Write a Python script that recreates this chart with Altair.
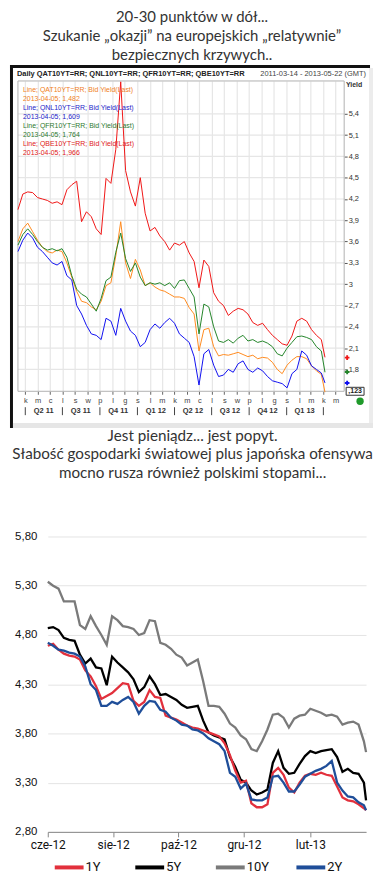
import altair as alt
import pandas as pd

# ---------------- top chart (Reuters screenshot) ----------------
top_title = ["20-30 punktów w dół...",
             "Szukanie „okazji” na europejskich „relatywnie”",
             "bezpiecznych krzywych.."]

top_dates = [
    "2011-03-14", "2011-03-26", "2011-04-07", "2011-04-19", "2011-05-01", "2011-05-13", "2011-05-25",
    "2011-06-06", "2011-06-18", "2011-06-30", "2011-07-12", "2011-07-24", "2011-08-05", "2011-08-17",
    "2011-08-29", "2011-09-10", "2011-09-22", "2011-10-04", "2011-10-16", "2011-10-28", "2011-11-09",
    "2011-11-21", "2011-12-03", "2011-12-15", "2011-12-27", "2012-01-08", "2012-01-20", "2012-02-01",
    "2012-02-13", "2012-02-25", "2012-03-08", "2012-03-20", "2012-04-01", "2012-04-13", "2012-04-25",
    "2012-05-07", "2012-05-19", "2012-05-31", "2012-06-12", "2012-06-24", "2012-07-06", "2012-07-18",
    "2012-07-30", "2012-08-11", "2012-08-23", "2012-09-04", "2012-09-16", "2012-09-28", "2012-10-10",
    "2012-10-22", "2012-11-03", "2012-11-15", "2012-11-27", "2012-12-09", "2012-12-21", "2013-01-02",
    "2013-01-14", "2013-01-26", "2013-02-07", "2013-02-19", "2013-03-03", "2013-03-15", "2013-03-27",
    "2013-04-05"]

qat = [3.60, 3.78, 3.86, 3.74, 3.62, 3.52, 3.46, 3.44, 3.48, 3.46,
       3.30, 3.10, 2.90, 2.76, 2.74, 2.68, 2.64, 2.76, 2.98, 3.02,
       3.40, 3.88, 3.30, 3.08, 3.35, 3.20, 2.98, 3.02, 2.96, 2.92,
       2.90, 2.86, 2.82, 2.82, 2.80, 2.67, 2.58, 2.06, 2.36, 2.38,
       2.12, 1.99, 2.01, 2.00, 2.02, 2.04, 2.01, 1.98, 2.00, 1.95,
       1.97, 1.96, 1.90, 1.80, 1.74, 1.86, 1.93, 1.98, 1.98, 1.95,
       1.85, 1.78, 1.73, 1.48]
qnl = [3.46, 3.62, 3.72, 3.65, 3.52, 3.46, 3.38, 3.30, 3.27, 3.32,
       3.12, 3.06, 2.70, 2.58, 2.42, 2.30, 2.28, 2.22, 2.52, 2.48,
       2.28, 2.66, 2.48, 2.34, 2.28, 2.12, 2.18, 2.36, 2.44, 2.38,
       2.46, 2.52, 2.45, 2.30, 2.24, 2.18, 1.98, 1.58, 2.02, 2.08,
       1.86, 1.70, 1.72, 1.80, 1.76, 1.88, 1.92, 1.80, 1.76, 1.82,
       1.78, 1.70, 1.64, 1.62, 1.60, 1.54, 1.74, 1.80, 2.06, 2.00,
       1.85, 1.80, 1.75, 1.61]
qfr = [3.55, 3.70, 3.78, 3.70, 3.60, 3.52, 3.48, 3.50, 3.47, 3.50,
       3.38, 3.12, 2.93, 2.86, 2.82, 2.72, 2.62, 2.80, 3.05, 3.10,
       3.45, 3.72, 3.36, 3.18, 3.30, 3.10, 2.98, 3.02, 3.00, 3.02,
       2.98, 3.02, 2.94, 3.05, 3.06, 2.94, 2.82, 2.30, 2.72, 2.68,
       2.40, 2.20, 2.18, 2.22, 2.17, 2.24, 2.28, 2.20, 2.22, 2.18,
       2.20, 2.17, 2.12, 2.02, 1.99, 2.10, 2.18, 2.26, 2.27, 2.25,
       2.22, 2.12, 2.06, 1.76]
qbe = [4.05, 4.27, 4.30, 4.29, 4.22, 4.20, 4.18, 4.14, 4.16, 4.12,
       4.33, 4.40, 4.45, 3.88, 4.02, 3.95, 3.78, 3.70, 4.49, 4.42,
       4.90, 5.85, 4.60, 4.30, 4.10, 4.50, 4.00, 3.75, 3.80, 3.68,
       3.60, 3.48, 3.58, 3.55, 3.60, 3.44, 3.32, 2.95, 3.34, 3.25,
       2.88, 2.76, 2.70, 2.56, 2.62, 2.66, 2.64, 2.58, 2.46, 2.42,
       2.45, 2.36, 2.28, 2.22, 2.16, 2.14, 2.27, 2.48, 2.52, 2.48,
       2.36, 2.28, 2.22, 1.97]

top_series = ["QAT10YT=RR", "QNL10YT=RR", "QFR10YT=RR", "QBE10YT=RR"]
top_colors = ["#FF8A1E", "#1010F0", "#24852A", "#F01616"]
top_text_colors = ["#F0801E", "#2323C8", "#2E7A30", "#E02020"]
last_values = [1.482, 1.609, 1.764, 1.966]
legend_lines = [["Line; QAT10YT=RR; Bid Yield(Last)", "2013-04-05; 1,482"],
                ["Line; QNL10YT=RR; Bid Yield(Last)", "2013-04-05; 1,609"],
                ["Line; QFR10YT=RR; Bid Yield(Last)", "2013-04-05; 1,764"],
                ["Line; QBE10YT=RR; Bid Yield(Last)", "2013-04-05; 1,966"]]
top_yticks = [1.8, 2.1, 2.4, 2.7, 3.0, 3.3, 3.6, 3.9, 4.2, 4.5, 4.8, 5.1, 5.4]
month_letters = "['s','l','m','k','m','c','l','s','w','p','l','g']"
quarter_labels = ["Q2 11", "Q3 11", "Q4 11", "Q1 12", "Q2 12", "Q3 12", "Q4 12", "Q1 13"]
quarter_mid = ["2011-05-16", "2011-08-15", "2011-11-15", "2012-02-15",
               "2012-05-16", "2012-08-15", "2012-11-15", "2013-02-14"]
quarter_starts = ["2011-04-01", "2011-07-01", "2011-10-01", "2012-01-01", "2012-04-01",
                  "2012-07-01", "2012-10-01", "2013-01-01", "2013-04-01"]

# ---------------- bottom chart (Polish yields) ----------------
bot_title = ["Jest pieniądz... jest popyt.",
             "Słabość gospodarki światowej plus japońska ofensywa",
             "mocno rusza również polskimi stopami..."]

bot_dates = [
    "2012-06-01", "2012-06-06", "2012-06-11", "2012-06-16", "2012-06-21", "2012-06-26", "2012-07-01",
    "2012-07-06", "2012-07-11", "2012-07-16", "2012-07-21", "2012-07-26", "2012-07-31", "2012-08-05",
    "2012-08-10", "2012-08-15", "2012-08-20", "2012-08-25", "2012-08-30", "2012-09-04", "2012-09-09",
    "2012-09-14", "2012-09-19", "2012-09-24", "2012-09-29", "2012-10-04", "2012-10-09", "2012-10-14",
    "2012-10-19", "2012-10-24", "2012-10-29", "2012-11-03", "2012-11-08", "2012-11-13", "2012-11-18",
    "2012-11-23", "2012-11-28", "2012-12-03", "2012-12-08", "2012-12-13", "2012-12-18", "2012-12-23",
    "2012-12-28", "2013-01-02", "2013-01-07", "2013-01-12", "2013-01-17", "2013-01-22", "2013-01-27",
    "2013-02-01", "2013-02-06", "2013-02-11", "2013-02-16", "2013-02-21", "2013-02-26", "2013-03-03",
    "2013-03-08", "2013-03-13", "2013-03-18", "2013-03-23", "2013-03-25"]

y1 = [4.69, 4.71, 4.65, 4.61, 4.59, 4.58, 4.55, 4.44, 4.38, 4.28,
      4.15, 4.18, 4.21, 4.26, 4.31, 4.30, 4.13, 4.08, 4.12, 4.24,
      4.17, 4.16, 3.98, 3.96, 3.94, 3.91, 3.88, 3.86, 3.85, 3.83,
      3.81, 3.79, 3.77, 3.70, 3.58, 3.42, 3.30, 3.32, 3.09, 3.05,
      3.05, 3.08, 3.40, 3.45, 3.38, 3.25, 3.20, 3.30, 3.37, 3.39,
      3.38, 3.40, 3.38, 3.37, 3.26, 3.15, 3.12, 3.11, 3.08, 3.04,
      3.02]
y5 = [4.87, 4.88, 4.85, 4.77, 4.75, 4.74, 4.60, 4.51, 4.56, 4.47,
      4.46, 4.29, 4.58, 4.52, 4.47, 4.42, 4.35, 4.22, 4.27, 4.38,
      4.30, 4.19, 4.20, 4.17, 4.14, 4.09, 4.06, 4.07, 4.08, 3.93,
      3.81, 3.78, 3.76, 3.74, 3.56, 3.46, 3.33, 3.30, 3.22, 3.18,
      3.20, 3.23, 3.50, 3.62, 3.45, 3.39, 3.40, 3.49, 3.57, 3.62,
      3.60, 3.62, 3.63, 3.64, 3.56, 3.41, 3.44, 3.40, 3.39, 3.30,
      3.12]
y10 = [5.34, 5.30, 5.27, 5.14, 5.14, 5.14, 4.90, 4.86, 4.99, 4.89,
       4.80, 4.70, 4.99, 4.95, 4.89, 4.88, 4.86, 4.80, 4.82, 4.95,
       4.94, 4.72, 4.70, 4.66, 4.60, 4.57, 4.49, 4.52, 4.55, 4.33,
       4.08, 4.08, 4.07, 4.00, 3.90, 3.86, 3.78, 3.74, 3.64, 3.62,
       3.72, 3.84, 3.99, 4.00, 3.96, 3.86, 3.95, 3.98, 3.99, 4.05,
       4.03, 4.01, 3.98, 3.99, 3.97, 3.89, 3.91, 3.92, 3.89, 3.72,
       3.61]
y2 = [4.72, 4.69, 4.65, 4.64, 4.62, 4.61, 4.58, 4.48, 4.30, 4.24,
      4.08, 4.08, 4.12, 4.10, 4.14, 4.17, 4.12, 4.00, 4.08, 4.13,
      4.12, 4.04, 4.02, 3.96, 3.93, 3.89, 3.88, 3.84, 3.83, 3.80,
      3.75, 3.72, 3.69, 3.62, 3.40, 3.36, 3.24, 3.29, 3.13, 3.12,
      3.12, 3.15, 3.36, 3.37, 3.30, 3.21, 3.21, 3.28, 3.36, 3.39,
      3.42, 3.44, 3.47, 3.52, 3.30, 3.22, 3.16, 3.15, 3.10, 3.07,
      3.02]

bot_series = ["1Y", "5Y", "10Y", "2Y"]
bot_colors = ["#E2303C", "#000000", "#7A7A7A", "#1F4E99"]
bot_draw_order = ["10Y", "5Y", "1Y", "2Y"]
bot_yticks = [2.8, 3.3, 3.8, 4.3, 4.8, 5.3, 5.8]
bot_xticks = [(2012, 6), (2012, 8), (2012, 10), (2012, 12), (2013, 2)]
pl_months = "['sty','lut','mar','kwi','maj','cze','lip','sie','wrz','paź','lis','gru']"


def long_df(dates, names, arrays):
    rows = []
    for name, arr in zip(names, arrays):
        for d, v in zip(dates, arr):
            rows.append({"date": d, "series": name, "value": v})
    return pd.DataFrame(rows)


one = pd.DataFrame({"k": [0]})
SMALL = "Liberation Sans"


def vrect(x1, x2, y1, y2, **kw):
    return alt.Chart(one).mark_rect(**kw).encode(
        x=alt.value(x1), x2=alt.value(x2), y=alt.value(y1), y2=alt.value(y2))


def vtext(txt, x, y, **kw):
    return alt.Chart(one).mark_text(**kw).encode(
        x=alt.value(x), y=alt.value(y), text=alt.value(txt))


# ---------------- build top ----------------
TW, TH = 298, 312
X0 = -30

month_ticks = []
for yr in (2011, 2012, 2013):
    for m in range(1, 13):
        if (yr, m) >= (2011, 4) and (yr, m) <= (2013, 5):
            month_ticks.append(alt.DateTime(year=yr, month=m, date=1, utc=True))

tx = alt.X("date:T", title=None,
           scale=alt.Scale(type="utc",
                           domain=[alt.DateTime(year=2011, month=3, date=14, utc=True),
                                   alt.DateTime(year=2013, month=5, date=22, utc=True)],
                           range=[X0, TW]),
           axis=alt.Axis(values=month_ticks, labelExpr=month_letters + "[utcmonth(datum.value)]",
                         grid=True, gridColor="#e6e6e6", gridWidth=1.2, domain=False,
                         tickSize=3, tickColor="#666", labelFont=SMALL, labelFontSize=7.5,
                         labelColor="#444", labelPadding=2, labelFlush=False))
ty = alt.Y("value:Q", title=None,
           scale=alt.Scale(domain=[1.492, 5.862], nice=False, zero=False),
           axis=alt.Axis(orient="right", values=top_yticks,
                         labelExpr="replace(format(datum.value, '.1~f'), '.', ',')",
                         grid=False, domain=False, tickSize=3, tickColor="#555",
                         labelFont=SMALL, labelFontSize=7.5, labelColor="#333", labelPadding=1))
tcolor = alt.Color("series:N", scale=alt.Scale(domain=top_series, range=top_colors), legend=None)

top_df = long_df(top_dates, top_series, [qat, qnl, qfr, qbe])

top_layers = [
    vrect(-38, -35, -16, 349, color="#111"),
    vrect(-38, 324, -16, -13, color="#111"),
    vrect(-35, 327, 344, 349, color="#e6e6e6"),
    vrect(323, 327, -13, 344, color="#ececec"),
    alt.Chart(pd.DataFrame({"value": top_yticks})).mark_rule(color="#e6e6e6", strokeWidth=1.2).encode(
        y=ty, x=alt.value(X0), x2=alt.value(TW)),
    vrect(X0, TW, 0, TH, fillOpacity=0, stroke="#b0b0b0", strokeWidth=1),
    alt.Chart(top_df).mark_line(strokeWidth=1).encode(x=tx, y=ty, color=tcolor),
    vtext("Daily QAT10YT=RR; QNL10YT=RR; QFR10YT=RR; QBE10YT=RR", -31, -7,
          align="left", baseline="middle", font=SMALL, fontSize=7.5, fontWeight="bold", color="#222"),
    vtext("2011-03-14 - 2013-05-22 (GMT)", 320, -7,
          align="right", baseline="middle", font=SMALL, fontSize=7.5, color="#444"),
    vtext("Yield", 308, 4, align="center", baseline="middle", font=SMALL, fontSize=7,
          fontWeight="bold", color="#333"),
]
for i, (pair, col) in enumerate(zip(legend_lines, top_text_colors)):
    top_layers.append(vtext(pair[0], -25, 9 + 18.2 * i, align="left", baseline="middle",
                            font=SMALL, fontSize=7, color=col))
    top_layers.append(vtext(pair[1], -25, 18 + 18.2 * i, align="left", baseline="middle",
                            font=SMALL, fontSize=7, color=col))

top_layers += [
    alt.Chart(pd.DataFrame({"date": quarter_mid, "label": quarter_labels})).mark_text(
        font=SMALL, fontSize=7.5, fontWeight="bold", color="#333", baseline="middle").encode(
        x=tx, y=alt.value(TH + 20), text="label:N"),
    alt.Chart(pd.DataFrame({"date": quarter_starts})).mark_rule(color="#444", strokeWidth=1).encode(
        x=tx, y=alt.value(TH + 16), y2=alt.value(TH + 24)),
    alt.Chart(pd.DataFrame({"series": top_series[1:], "value": last_values[1:]})).mark_point(
        shape="cross", filled=True, size=22, opacity=1).encode(
        x=alt.value(TW + 3), y=ty, color=tcolor),
    vrect(TW + 2, TW + 20, TH - 4, TH + 4, fill="white", stroke="#333", strokeWidth=1),
    vtext(",123", TW + 11, TH, align="center", baseline="middle", font=SMALL, fontSize=7,
          fontWeight="bold", color="#222"),
    alt.Chart(one).mark_point(shape="circle", filled=True, size=55, opacity=1, color="#1f9a2a").encode(
        x=alt.value(TW + 16), y=alt.value(TH + 10)),
]

top = alt.layer(*top_layers).properties(
    width=TW, height=TH,
    title=alt.TitleParams(text=top_title, anchor="middle", frame="bounds", font="Lato",
                          fontSize=15, fontWeight="normal", color="#333", lineHeight=19, offset=2))

# ---------------- build bottom ----------------
BW, BH = 320, 297
bot_df = long_df(bot_dates, bot_series, [y1, y5, y10, y2])

bx = alt.X("date:T", title=None,
           scale=alt.Scale(type="utc",
                           domain=[alt.DateTime(year=2012, month=6, date=1, utc=True),
                                   alt.DateTime(year=2013, month=3, date=25, utc=True)]),
           axis=alt.Axis(values=[alt.DateTime(year=a, month=b, date=1, utc=True) for a, b in bot_xticks],
                         labelExpr=pl_months + "[utcmonth(datum.value)] + '-' + (utcyear(datum.value) % 100)",
                         grid=False, domain=True, domainColor="#888", tickColor="#888", tickSize=5,
                         labelFont="Roboto", labelFontSize=12, labelColor="#111", labelPadding=3,
                         labelFlush=False))
by = alt.Y("value:Q", title=None,
           scale=alt.Scale(domain=[2.8, 5.8], nice=False, zero=False),
           axis=alt.Axis(values=bot_yticks, labelExpr="replace(format(datum.value, '.2f'), '.', ',')",
                         grid=True, gridColor="#e4e4e4", domain=False, ticks=False,
                         labelFont="Liberation Sans", labelFontSize=11.5, labelColor="#111",
                         labelPadding=11))
bcolor = alt.Color("series:N", scale=alt.Scale(domain=bot_series, range=bot_colors),
                   legend=alt.Legend(orient="none", legendX=5, legendY=316, direction="horizontal",
                                     columns=4, gridAlign="all", columnPadding=19, title=None,
                                     symbolType="stroke", symbolSize=841, symbolStrokeWidth=4,
                                     labelFont="Roboto", labelFontSize=13, labelColor="#111",
                                     labelOffset=0))

bot_layers = [
    alt.Chart(bot_df).transform_filter(alt.datum.series == s).mark_line(strokeWidth=2.3).encode(
        x=bx, y=by, color=bcolor)
    for s in bot_draw_order
]
bottom = alt.layer(*bot_layers).properties(
    width=BW, height=BH,
    title=alt.TitleParams(text=bot_title, anchor="middle", frame="bounds", font="Lato",
                          fontSize=15.3, fontWeight="normal", color="#333", lineHeight=18.5, offset=50))

chart = alt.vconcat(top, bottom, spacing=0).resolve_scale(color="independent").properties(
    padding={"left": 2, "top": 0, "right": 0, "bottom": 0}, background="white"
).configure_view(stroke=None)

chart.save("out.html", embed_options={"renderer": "svg", "actions": False})
